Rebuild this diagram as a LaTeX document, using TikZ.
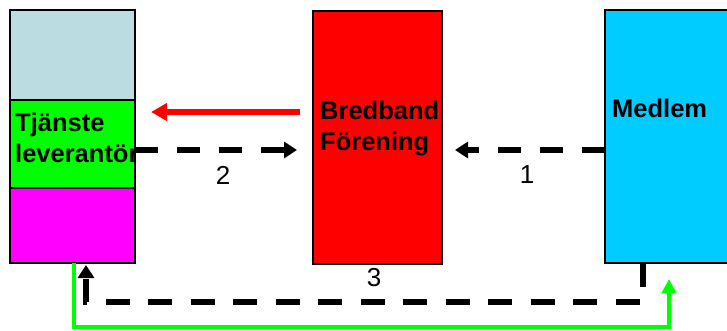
\documentclass[tikz,border=0pt]{standalone}
\usepackage{fontspec}
\setmainfont{Liberation Sans}
\usetikzlibrary{arrows.meta}
\definecolor{cgray}{RGB}{187,221,226}
\definecolor{cgreen}{RGB}{0,255,0}
\definecolor{cmag}{RGB}{255,0,255}
\definecolor{cred}{RGB}{255,0,0}
\definecolor{ccyan}{RGB}{0,204,255}
\begin{document}
\begin{tikzpicture}[x=1pt,y=-1pt,
  box/.style={draw=black, line width=1.5pt, inner sep=0pt, outer sep=0pt, anchor=north west},
  lbl/.style={font=\fontsize{25.5}{31}\selectfont\bfseries, anchor=base west, inner sep=0pt},
  num/.style={font=\fontsize{26}{30}\selectfont, inner sep=0pt},
  dsh/.style={line width=5.5pt, dash pattern=on 23pt off 19pt, -{Triangle[length=13pt,width=16pt]}},
  redarr/.style={draw=cred, line width=6pt, -{Triangle[length=16pt,width=17pt]}},
  grn/.style={draw=cgreen, line width=3.5pt, -{Triangle[length=14pt,width=14pt]}}]
\useasboundingbox (0,0) rectangle (727,331);
% left stacked box
\node[box, fill=cgray, minimum width=125pt, minimum height=90pt] (ttop) at (10,10) {};
\node[box, fill=cgreen, minimum width=125pt, minimum height=88pt] (tmid) at (10,100) {};
\node[box, fill=cmag, minimum width=125pt, minimum height=75pt] (tbot) at (10,188) {};
% middle box
\node[box, fill=cred, minimum width=129pt, minimum height=253pt] (bf) at (313,11) {};
% right box
\node[box, fill=ccyan, minimum width=140pt, minimum height=253pt] (med) at (605,10) {};
% texts
\node[lbl] (t1) at (15,132) {Tjänste};
\node[lbl] (t2) at (15,163) {leverantör};
\node[lbl] (b1) at (320,120) {Bredband};
\node[lbl] (b2) at (320,151) {Förening};
\node[lbl] (m1) at (612,118) {Medlem};
% coordinates for horizontal levels
\coordinate (yr) at (0,112);
\coordinate (yd) at (0,150);
% arrows
\draw[redarr, shorten <=13pt, shorten >=16pt] (bf.west |- yr) -- (tmid.east |- yr);
\draw[dsh, shorten >=16pt] (tmid.east |- yd) -- (bf.west |- yd);
\draw[dsh, shorten >=13pt] (med.west |- yd) -- (bf.east |- yd);
\draw[dsh, dash pattern=on 24pt off 18.5pt, shorten >=2pt] ([xshift=38pt]med.south west) -- ++(0,39) -| ([xshift=76pt]tbot.south west);
\draw[grn, shorten >=16pt] ([xshift=64pt]tbot.south west) -- ++(0,64) -| ([xshift=64pt]med.south west);
% numbers
\node[num] (n2) at (223,175) {2};
\node[num] (n1) at (527,175) {1};
\node[num] (n3) at (374,278) {3};
\end{tikzpicture}
\end{document}
